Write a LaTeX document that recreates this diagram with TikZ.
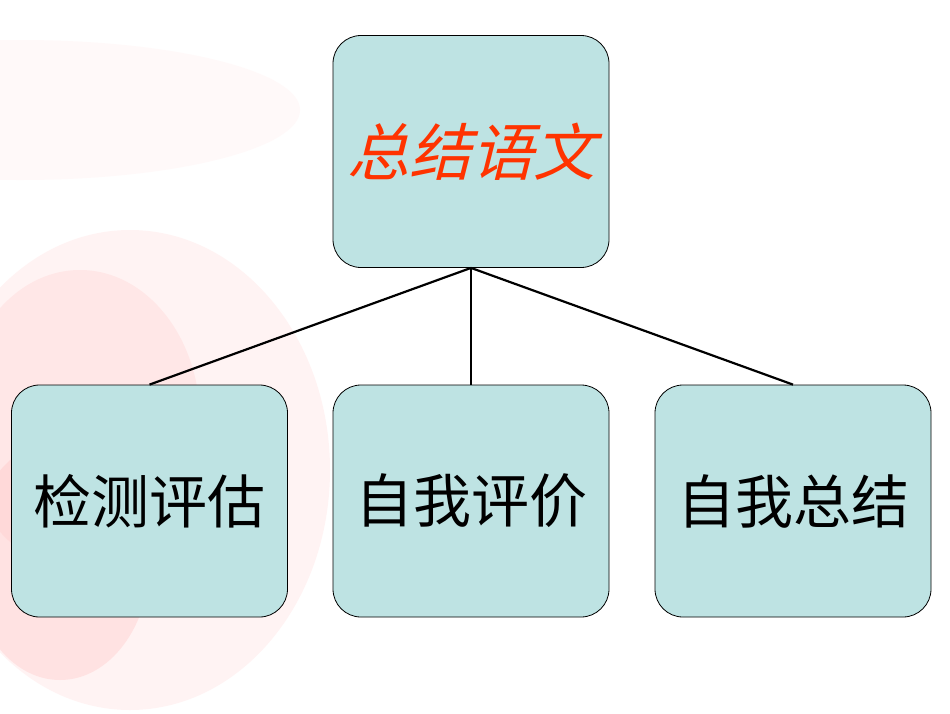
\documentclass[tikz,border=0pt]{standalone}
\usepackage{fontspec}
\newfontfamily\cjk{Noto Sans CJK SC}
\newfontfamily\cjkit[FakeSlant=0.25]{Noto Sans CJK SC}
\definecolor{boxfill}{HTML}{BEE3E3}
\definecolor{titlered}{HTML}{FF3300}
\begin{document}
\begin{tikzpicture}[x=1pt,y=-1pt,
  boxstyle/.style={draw=black,line width=0.8pt,fill=boxfill,rounded corners=28pt,minimum width=276pt,minimum height=232pt,inner sep=0pt},
  link/.style={line width=2.2pt}]
\fill[white] (0,0) rectangle (950,713);
\useasboundingbox (0,0) rectangle (950,713);
\fill[pink!50,opacity=0.35] (130,470) ellipse (200 and 240);
\fill[pink!70,opacity=0.35] (80,420) ellipse (120 and 150);
\fill[red!30,opacity=0.25] (60,560) ellipse (90 and 120);
\fill[pink!30,opacity=0.3] (20,110) ellipse (280 and 70);
\node[boxstyle] (top) at (471,151.5) {\cjkit\fontsize{62}{70}\selectfont\color{titlered}总结语文};
\node[boxstyle] (a) at (149.5,501) {\cjk\fontsize{58}{66}\selectfont 检测评估};
\node[boxstyle] (b) at (471,501) {\cjk\fontsize{58}{66}\selectfont 自我评价};
\node[boxstyle] (c) at (793,501) {\cjk\fontsize{58}{66}\selectfont 自我总结};
\draw[link] (top.south) -- (a.north);
\draw[link] (top.south) -- (b.north);
\draw[link] (top.south) -- (c.north);
\end{tikzpicture}
\end{document}
